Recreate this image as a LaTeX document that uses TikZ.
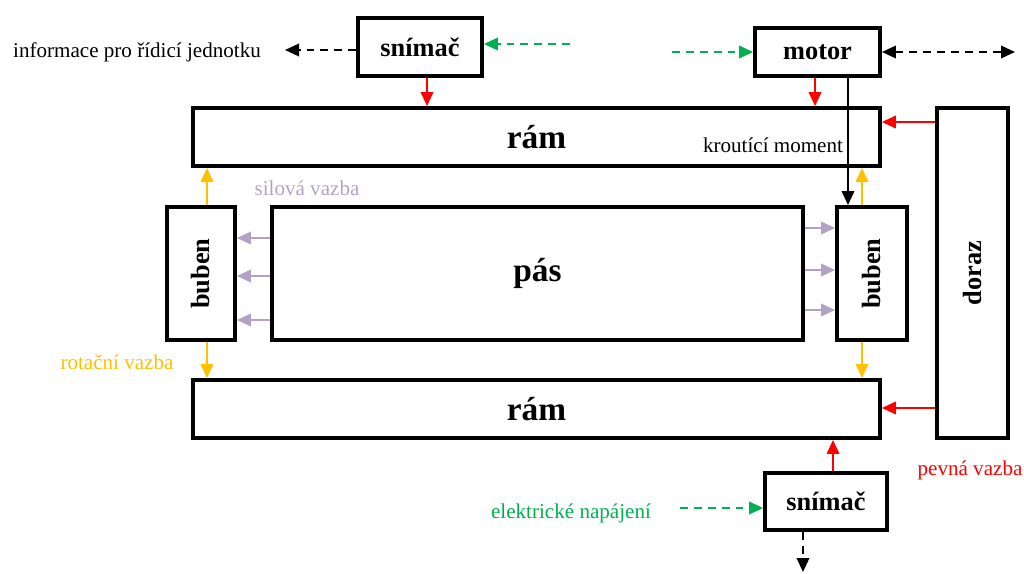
\documentclass[tikz,border=0pt]{standalone}
\usepackage{fontspec}
\setmainfont{Liberation Serif}
\usetikzlibrary{arrows.meta, positioning, calc}

\definecolor{fixred}{HTML}{FF0000}
\definecolor{powgreen}{HTML}{00B050}
\definecolor{rotorange}{HTML}{FFC000}
\definecolor{forcepurple}{HTML}{B3A2C7}

\begin{document}
\begin{tikzpicture}[
    x=0.02cm, y=-0.02cm,
    font=\fontsize{12}{14}\selectfont,
    block/.style={
        draw=black,
        rectangle,
        line width=2.2pt,
        inner sep=0pt,
        font=\fontsize{15}{17}\selectfont\bfseries
    },
    bigblock/.style={
        block,
        font=\fontsize{19}{21}\selectfont\bfseries
    },
    fixed/.style={
        -{Triangle[length=0.28cm,width=0.25cm]},
        line width=1.1pt,
        draw=fixred
    },
    rot/.style={
        fixed,
        draw=rotorange
    },
    force/.style={
        fixed,
        draw=forcepurple
    },
    power/.style={
        fixed,
        dashed,
        dash pattern=on 4.5pt off 3.4pt,
        draw=powgreen
    },
    signal/.style={
        power,
        draw=black
    },
    torque/.style={
        fixed,
        draw=black
    },
    note/.style={
        inner sep=1pt
    }
]

\useasboundingbox (0,0) rectangle (1024,574);

% ============================================================
% Blocks
% ============================================================

\node[block, minimum width=2.48cm, minimum height=1.16cm] (snimacA) at (420,47) {snímač};
\node[block, minimum width=2.50cm, minimum height=0.96cm] (motor)   at (817.5,52) {motor};

\node[bigblock, minimum width=13.74cm, minimum height=1.16cm] (ramA) at (536.5,137) {rám};
\node[bigblock, minimum width=13.74cm, minimum height=1.16cm] (ramB) at (536.5,409) {rám};

\node[block, minimum width=1.36cm, minimum height=2.66cm] (bubenL) at (201,273.5) {\rotatebox{90}{buben}};
\node[bigblock, minimum width=10.62cm, minimum height=2.66cm] (pas) at (537.5,273.5) {pás};
\node[block, minimum width=1.40cm, minimum height=2.66cm] (bubenR) at (872,273.5) {\rotatebox{90}{buben}};

\node[block, minimum width=1.42cm, minimum height=6.60cm] (doraz) at (972.5,273) {\rotatebox{90}{doraz}};

\node[block, minimum width=2.44cm, minimum height=1.14cm] (snimacB) at (826,501.5) {snímač};

% ============================================================
% Labels
% ============================================================

\node[note] (info)   at (137,52)  {informace pro řídicí jednotku};
\node[note] (kmom)   at (773,145) {kroutící moment};
\node[note, text=forcepurple] (silova)  at (307,188) {silová vazba};
\node[note, text=rotorange]   (rotacni) at (117,362) {rotační vazba};
\node[note, text=fixred]      (pevna)   at (970,470) {pevná vazba};
\node[note, text=powgreen]    (napaj)   at (571,513) {elektrické napájení};

% ============================================================
% Free ends
% ============================================================

\coordinate (infoEnd)  at (285,50);
\coordinate (powA)     at (570,44);
\coordinate (powM)     at (672,52);
\coordinate (motorEnd) at (1015,52);
\coordinate (powB)     at (680,508);
\coordinate (outB)     at (803,572);

% ============================================================
% Signals and power
% ============================================================

\draw[signal] (infoEnd -| snimacA.west) -- (infoEnd);
\draw[power]  (powA) -- (powA -| snimacA.east);
\draw[power]  (powM) -- (motor.west);
\draw[signal, {Triangle[length=0.28cm,width=0.25cm]}-{Triangle[length=0.28cm,width=0.25cm]}]
    (motor.east) -- (motorEnd);
\draw[power]  (powB) -- (powB -| snimacB.west);
\draw[signal] (outB |- snimacB.south) -- (outB);

% ============================================================
% Fixed joints
% ============================================================

\coordinate (fA) at ($(snimacA.south)+(7,0)$);
\coordinate (fM) at ($(motor.south)+(-2.5,0)$);
\coordinate (fB) at ($(snimacB.north)+(7,0)$);
\coordinate (dA) at (0,122);
\coordinate (dB) at (0,408);

\draw[fixed] (fA) -- (fA |- ramA.north);
\draw[fixed] (fM) -- (fM |- ramA.north);
\draw[fixed] (fB) -- (fB |- ramB.south);
\draw[fixed] (doraz.west |- dA) -- (ramA.east |- dA);
\draw[fixed] (doraz.west |- dB) -- (ramB.east |- dB);

% ============================================================
% Torque
% ============================================================

\coordinate (tq) at (848,0);
\draw[torque] (motor.south -| tq) -- (bubenR.north -| tq);

% ============================================================
% Rotational joints
% ============================================================

\coordinate (rL) at (207,0);
\coordinate (rR) at (862,0);

\draw[rot] (bubenL.north -| rL) -- (ramA.south -| rL);
\draw[rot] (bubenL.south -| rL) -- (ramB.north -| rL);
\draw[rot] (bubenR.north -| rR) -- (ramA.south -| rR);
\draw[rot] (bubenR.south -| rR) -- (ramB.north -| rR);

% ============================================================
% Forces
% ============================================================

\foreach \y in {238,276,320} {
    \coordinate (fl) at (0,\y);
    \draw[force] (pas.west |- fl) -- (bubenL.east |- fl);
}
\foreach \y in {228,270,310} {
    \coordinate (fr) at (0,\y);
    \draw[force] (pas.east |- fr) -- (bubenR.west |- fr);
}
\end{tikzpicture}
\end{document}
